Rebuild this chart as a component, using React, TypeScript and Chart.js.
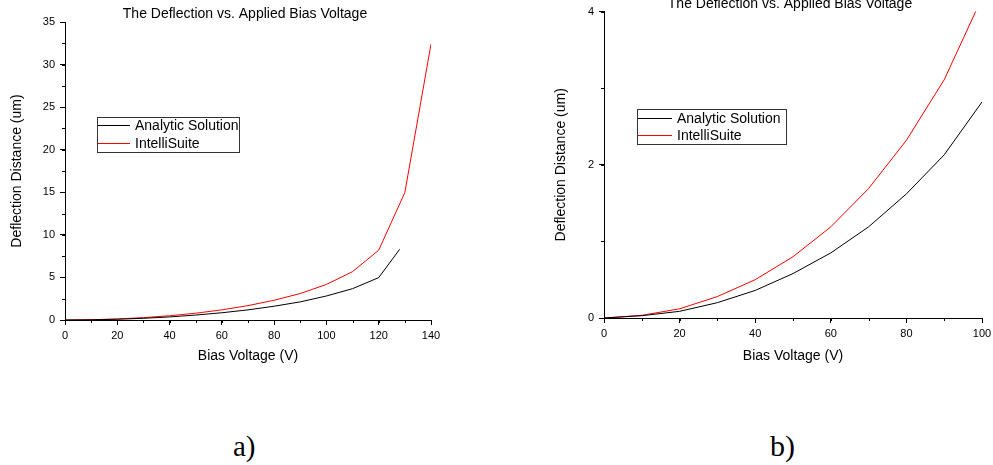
import React, { useEffect, useRef } from "react";
import { Chart, registerables } from "chart.js";

Chart.register(...registerables);

const FONT = '"Liberation Sans", Arial, Helvetica, sans-serif';
const SERIF = '"Liberation Serif", "Times New Roman", serif';

const TITLE = "The Deflection vs. Applied Bias Voltage";
const X_TITLE = "Bias Voltage (V)";
const Y_TITLE = "Deflection Distance (um)";
const SERIES_NAMES = ["Analytic Solution", "IntelliSuite"];
const PANEL_LABELS = ["a)", "b)"];

// Panel a)
const A_ANALYTIC_V = [0, 10, 20, 30, 40, 50, 60, 70, 80, 90, 100, 110, 120, 128];
const A_ANALYTIC_D = [0, 0.02, 0.09, 0.2, 0.36, 0.58, 0.85, 1.19, 1.62, 2.13, 2.82, 3.68, 4.98, 8.3];
const A_INTELLI_V = [0, 10, 20, 30, 40, 50, 60, 70, 80, 90, 100, 110, 120, 130, 140];
const A_INTELLI_D = [0, 0.035, 0.12, 0.28, 0.5, 0.8, 1.19, 1.69, 2.32, 3.11, 4.18, 5.68, 8.2, 14.97, 32.4];
const A_X_RANGE = [0, 140];
const A_Y_RANGE = [0, 35];

// Panel b)
const B_V = [0, 10, 20, 30, 40, 50, 60, 70, 80, 90, 100];
const B_ANALYTIC_D = [0, 0.03, 0.087, 0.2, 0.36, 0.58, 0.85, 1.19, 1.62, 2.13, 2.82];
const B_INTELLI_D = [0, 0.035, 0.12, 0.28, 0.5, 0.8, 1.19, 1.69, 2.32, 3.11, 4.18];
const B_X_RANGE = [0, 100];
const B_Y_RANGE = [0, 4];

const zip = (xs: number[], ys: number[]) => xs.map((x, i) => ({ x, y: ys[i] }));

const decorPlugin = {
  id: "decor",
  afterDraw(chart: any, _args: any, opts: any) {
    const ctx = chart.ctx;
    const ca = chart.chartArea;
    ctx.save();
    // title
    ctx.font = `14px ${FONT}`;
    ctx.fillStyle = "#000";
    ctx.textAlign = "center";
    ctx.textBaseline = "middle";
    ctx.fillText(opts.title, (ca.left + ca.right) / 2 + opts.titleDx, ca.top + opts.titleDy);

    // minor ticks
    const xs = chart.scales.x;
    const ys = chart.scales.y;
    ctx.strokeStyle = "#000";
    ctx.lineWidth = 1;
    ctx.beginPath();
    for (let v = xs.min; v <= xs.max + 1e-9; v += opts.xMinor) {
      const px = Math.round(xs.getPixelForValue(v)) + 0.5;
      ctx.moveTo(px, ca.bottom);
      ctx.lineTo(px, ca.bottom + 3);
    }
    for (let v = ys.min; v <= ys.max + 1e-9; v += opts.yMinor) {
      const py = Math.round(ys.getPixelForValue(v)) + 0.5;
      ctx.moveTo(ca.left, py);
      ctx.lineTo(ca.left - 3, py);
    }
    ctx.stroke();

    // legend
    const L = opts.legend;
    ctx.strokeStyle = "#333";
    ctx.lineWidth = 1;
    ctx.strokeRect(L.x + 0.5, L.y + 0.5, L.w, L.h);
    ctx.font = `14px ${FONT}`;
    ctx.textAlign = "left";
    ctx.textBaseline = "middle";
    chart.data.datasets.forEach((ds: any, i: number) => {
      const y = L.rows[i];
      ctx.strokeStyle = ds.borderColor;
      ctx.beginPath();
      ctx.moveTo(L.lineX0, Math.round(y) + 0.5);
      ctx.lineTo(L.lineX1, Math.round(y) + 0.5);
      ctx.stroke();
      ctx.fillStyle = "#000";
      ctx.fillText(ds.label, L.textX, y + 1);
    });
    ctx.restore();
  },
};

type PanelProps = {
  left: number;
  top: number;
  width: number;
  height: number;
  analytic: { x: number; y: number }[];
  intelli: { x: number; y: number }[];
  xRange: number[];
  yRange: number[];
  xStep: number;
  yStep: number;
  xMinor: number;
  yMinor: number;
  padding: { left: number; right: number; top: number; bottom: number };
  yWidth: number;
  xHeight: number;
  yTitlePad: number;
  legend: any;
};

function Panel(p: PanelProps) {
  const ref = useRef<HTMLCanvasElement | null>(null);
  useEffect(() => {
    if (!ref.current) return;
    const tickFont = { family: FONT, size: 11 };
    const titleFont = { family: FONT, size: 14 };
    const chart = new Chart(ref.current, {
      type: "line",
      data: {
        datasets: [
          {
            label: SERIES_NAMES[0],
            data: p.analytic,
            borderColor: "#000000",
            borderWidth: 1,
            pointRadius: 0,
            tension: 0,
            fill: false,
          },
          {
            label: SERIES_NAMES[1],
            data: p.intelli,
            borderColor: "#ff0000",
            borderWidth: 1,
            pointRadius: 0,
            tension: 0,
            fill: false,
          },
        ],
      },
      options: {
        animation: false,
        responsive: false,
        maintainAspectRatio: false,
        layout: { padding: p.padding },
        plugins: {
          legend: { display: false },
          tooltip: { enabled: false },
          title: { display: false },
          decor: {
            title: TITLE,
            titleDx: -3,
            titleDy: -7.5,
            xMinor: p.xMinor,
            yMinor: p.yMinor,
            legend: p.legend,
          },
        } as any,
        scales: {
          x: {
            type: "linear",
            min: p.xRange[0],
            max: p.xRange[1],
            afterFit: (s: any) => {
              s.height = p.xHeight;
            },
            border: { display: true, color: "#000", width: 1 },
            grid: {
              display: true,
              drawOnChartArea: false,
              drawTicks: true,
              tickLength: 5,
              tickColor: "#000",
              color: "#000",
            },
            ticks: {
              stepSize: p.xStep,
              autoSkip: false,
              maxRotation: 0,
              color: "#000",
              font: tickFont,
              padding: 4,
            },
            title: {
              display: true,
              text: X_TITLE,
              color: "#000",
              font: titleFont,
              padding: { top: 0, bottom: 15 },
            },
          },
          y: {
            type: "linear",
            min: p.yRange[0],
            max: p.yRange[1],
            afterFit: (s: any) => {
              s.width = p.yWidth;
            },
            border: { display: true, color: "#000", width: 1 },
            grid: {
              display: true,
              drawOnChartArea: false,
              drawTicks: true,
              tickLength: 5,
              tickColor: "#000",
              color: "#000",
            },
            ticks: {
              stepSize: p.yStep,
              autoSkip: false,
              color: "#000",
              font: tickFont,
              padding: 5,
            },
            title: {
              display: true,
              text: Y_TITLE,
              color: "#000",
              font: titleFont,
              padding: { top: p.yTitlePad, bottom: 0 },
            },
          },
        },
      } as any,
      plugins: [decorPlugin as any],
    });
    return () => chart.destroy();
  }, []);
  return (
    <canvas
      ref={ref}
      width={p.width}
      height={p.height}
      style={{ position: "absolute", left: p.left, top: p.top, width: p.width, height: p.height }}
    />
  );
}

export default function App() {
  return (
    <div
      style={{
        position: "absolute",
        left: 0,
        top: 0,
        width: 993,
        height: 465,
        overflow: "hidden",
        background: "#fff",
      }}
    >
      <Panel
        left={0}
        top={0}
        width={470}
        height={380}
        analytic={zip(A_ANALYTIC_V, A_ANALYTIC_D)}
        intelli={zip(A_INTELLI_V, A_INTELLI_D)}
        xRange={A_X_RANGE}
        yRange={A_Y_RANGE}
        xStep={20}
        yStep={5}
        xMinor={10}
        yMinor={2.5}
        padding={{ left: 0, right: 39, top: 22, bottom: 0 }}
        yWidth={65}
        xHeight={60}
        yTitlePad={9}
        legend={{ x: 97, y: 117, w: 142, h: 35, rows: [125, 143], lineX0: 98, lineX1: 130, textX: 135 }}
      />
      <Panel
        left={540}
        top={0}
        width={460}
        height={380}
        analytic={zip(B_V, B_ANALYTIC_D)}
        intelli={zip(B_V, B_INTELLI_D)}
        xRange={B_X_RANGE}
        yRange={B_Y_RANGE}
        xStep={20}
        yStep={2}
        xMinor={10}
        yMinor={1}
        padding={{ left: 0, right: 18, top: 11, bottom: 0 }}
        yWidth={64}
        xHeight={62}
        yTitlePad={13}
        legend={{ x: 97, y: 109, w: 149, h: 35, rows: [118, 135], lineX0: 98, lineX1: 132, textX: 137 }}
      />
      <div
        style={{
          position: "absolute",
          left: 233,
          top: 431,
          fontFamily: SERIF,
          fontSize: 29,
          lineHeight: "30px",
          color: "#000",
          whiteSpace: "nowrap",
        }}
      >
        {PANEL_LABELS[0]}
      </div>
      <div
        style={{
          position: "absolute",
          left: 770,
          top: 431,
          fontFamily: SERIF,
          fontSize: 30,
          lineHeight: "30px",
          color: "#000",
          whiteSpace: "nowrap",
        }}
      >
        {PANEL_LABELS[1]}
      </div>
    </div>
  );
}
